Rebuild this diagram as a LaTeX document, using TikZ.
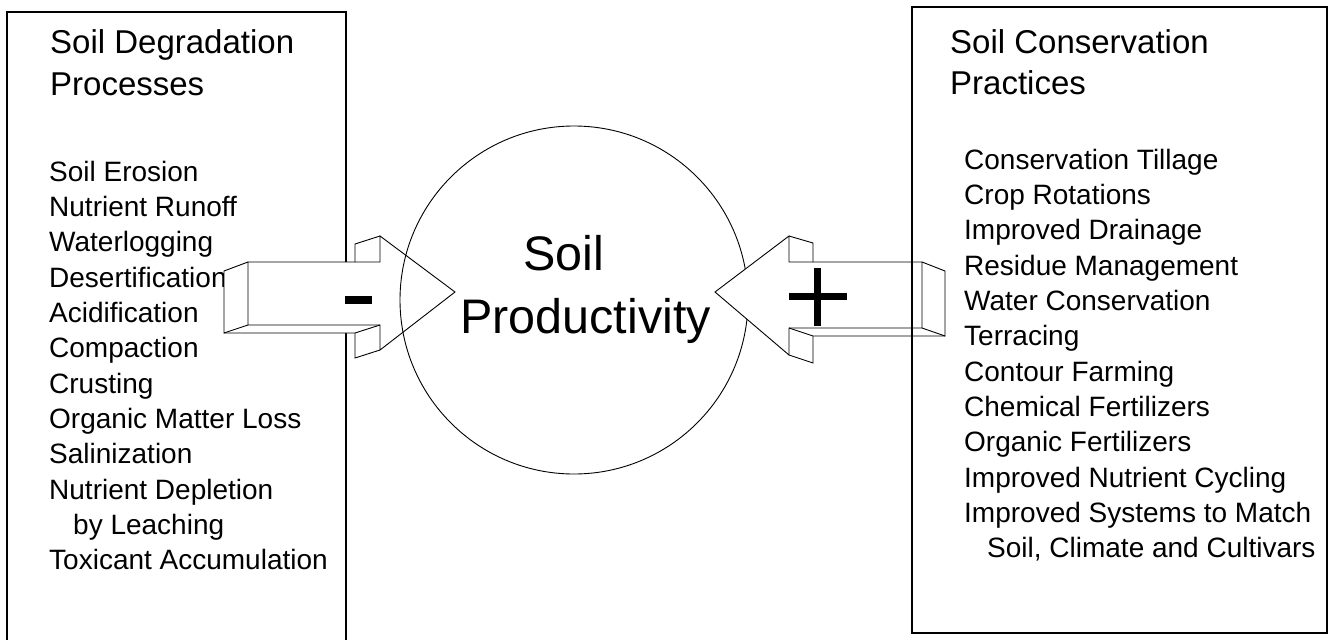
\documentclass[tikz,border=0pt]{standalone}
\usepackage{fontspec}
\setmainfont{Liberation Sans}
\tikzset{
  frame/.style={draw, line width=1.1pt},
  edge/.style={draw, line width=0.9pt, line join=miter},
  titletext/.style={anchor=base west, inner sep=0pt, font=\fontsize{33}{40}\selectfont},
  itemtext/.style={anchor=base west, inner sep=0pt, font=\fontsize{28}{34}\selectfont},
  bigtext/.style={anchor=base west, inner sep=0pt, font=\fontsize{48.5}{56}\selectfont},
  signbar/.style={fill=black}
}
\begin{document}
\begin{tikzpicture}[x=1pt,y=-1pt]
\useasboundingbox (0,0) rectangle (1331,640);
\fill[white] (0,0) rectangle (1331,640);

% left box
\draw[frame] (7,660) -- (7,12) -- (346,12) -- (346,660);
\node[titletext] (lt1) at (50,53) {Soil Degradation};
\node[titletext] (lt2) at (50,95) {Processes};
\foreach \t [count=\i] in {Soil Erosion, Nutrient Runoff, Waterlogging, Desertification, Acidification, Compaction, Crusting, Organic Matter Loss, Salinization, Nutrient Depletion, \hspace*{24pt}by Leaching, Toxicant Accumulation}
  \node[itemtext] (l\i) at (49,{181+35.36*(\i-1)}) {\t};

% left arrow
\fill[white] (224,271) -- (248,262) -- (355,262) -- (355,244) -- (380,236) -- (455,292)
  -- (380,350) -- (355,358) -- (355,333) -- (224,333) -- cycle;
\draw[edge] (248,262) -- (380,262) -- (380,236) -- (455,292) -- (380,350) -- (380,325) -- (248,325) -- cycle;
\draw[edge] (248,262) -- (224,271) -- (224,333) -- (248,325);
\draw[edge] (224,333) -- (355,333) -- (380,325);
\draw[edge] (380,236) -- (355,244) -- (355,262);
\draw[edge] (380,350) -- (355,358) -- (355,333);
\fill[signbar] (345,296) rectangle (372,304);

% circle
\node[circle, draw, line width=0.9pt, minimum size=348pt, inner sep=0pt] (prod) at (574,300) {};
\node[bigtext] (soil) at (523,270) {Soil};
\node[bigtext] (productivity) at (460,333) {Productivity};

% right arrow
\fill[white] (715,292) -- (789,236) -- (813,243) -- (813,262) -- (922,262) -- (945,271)
  -- (945,336) -- (813,336) -- (813,363) -- (789,355) -- cycle;
\draw[edge] (715,292) -- (789,236) -- (789,262) -- (922,262) -- (922,328) -- (789,328) -- (789,355) -- cycle;
\draw[edge] (922,262) -- (945,271) -- (945,336) -- (922,328);
\draw[edge] (789,328) -- (813,336) -- (945,336);
\draw[edge] (789,236) -- (813,243) -- (813,262);
\draw[edge] (789,355) -- (813,363) -- (813,336);
\fill[signbar] (814,268) rectangle (821,326);
\fill[signbar] (789,293) rectangle (847,300);

% right box
\draw[frame] (912,7) rectangle (1327,633);
\node[titletext] (rt1) at (950,53) {Soil Conservation};
\node[titletext] (rt2) at (950,94) {Practices};
\foreach \t [count=\i] in {Conservation Tillage, Crop Rotations, Improved Drainage, Residue Management, Water Conservation, Terracing, Contour Farming, Chemical Fertilizers, Organic Fertilizers, Improved Nutrient Cycling, Improved Systems to Match, {\hspace*{23pt}Soil, Climate and Cultivars}}
  \node[itemtext] (r\i) at (964,{169+35.36*(\i-1)}) {\t};
\end{tikzpicture}
\end{document}
